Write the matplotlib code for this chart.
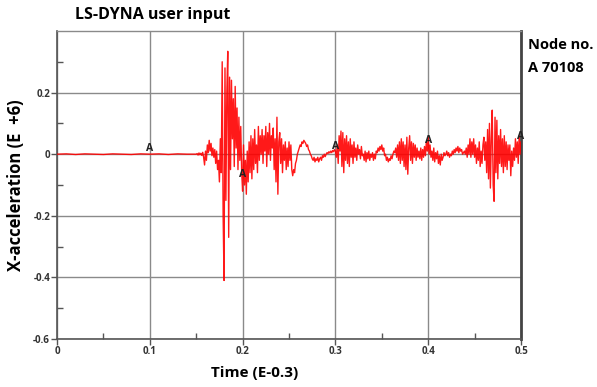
import numpy as np
import matplotlib
matplotlib.use("Agg")
import matplotlib.pyplot as plt

# ---- data ----
quiet_time = [0.00, 0.01, 0.02, 0.03, 0.04, 0.05, 0.06, 0.07, 0.08, 0.09,
              0.10, 0.11, 0.12, 0.13, 0.14]
quiet_vals = [0.000, 0.001, -0.001, 0.001, 0.000, -0.001, 0.001, 0.000, -0.001, 0.001,
              0.000, 0.001, -0.001, 0.001, 0.000]

active_start = 0.150
active_step = 0.001
active_vals = [
    0.000, 0.002, -0.003, 0.004, -0.002, 0.003, -0.004, 0.006, -0.010, -0.035,
    0.010, -0.020, 0.030, 0.005, 0.045, 0.010, 0.035, -0.005, 0.020, -0.010,
    0.015, -0.030, 0.010, -0.050, -0.020, -0.090, 0.050, -0.060, 0.300, -0.200,
    -0.410, 0.280, -0.150, 0.200, 0.334, -0.270, 0.250, -0.050, 0.240, 0.050,
    0.180, -0.040, 0.220, 0.020, 0.150, -0.050, 0.120, -0.020, 0.090, -0.060,
    -0.120, 0.030, -0.100, -0.020, -0.130, 0.010, -0.090, 0.040, -0.060, 0.060,
    -0.080, 0.050, -0.050, 0.080, -0.030, 0.030, -0.060, 0.090, -0.020, 0.060,
    0.000, 0.080, -0.030, 0.060, 0.010, 0.090, -0.040, 0.070, 0.000, 0.100,
    -0.020, 0.060, 0.020, 0.085, -0.050, 0.050, -0.090, 0.120, -0.130, 0.040,
    0.070, -0.030, 0.050, -0.060, 0.030, -0.020, 0.040, -0.050, 0.020, -0.040,
    0.040, -0.020, 0.030, -0.050, -0.070, -0.050, -0.060, -0.030, -0.020, 0.000,
    0.010, 0.020, 0.030, 0.025, 0.040, 0.035, 0.045, 0.040, 0.035, 0.025,
    0.030, 0.015, 0.010, 0.000, -0.005, -0.015, -0.020, -0.010, -0.025, -0.015,
    -0.020, -0.010, -0.025, -0.015, -0.010, -0.020, -0.005, -0.010, 0.000, -0.008,
    0.000, 0.005, 0.002, 0.008, 0.004, 0.010, 0.005, 0.012, 0.008, 0.015,
    0.010, -0.010, 0.030, -0.030, 0.060, 0.010, 0.075, -0.040, 0.070, -0.060,
    0.050, -0.020, 0.060, -0.030, 0.040, -0.040, 0.050, -0.010, 0.030, -0.030,
    0.040, -0.010, 0.020, -0.020, 0.030, 0.000, 0.015, -0.015, 0.025, -0.005,
    0.000, -0.020, 0.010, -0.025, 0.005, -0.015, 0.010, -0.020, 0.000, -0.010,
    0.005, -0.020, 0.000, -0.015, 0.010, 0.005, 0.020, 0.010, 0.025, 0.015,
    0.030, 0.010, 0.020, -0.005, 0.000, -0.020, -0.010, -0.025, -0.015, -0.020,
    -0.005, -0.015, 0.000, 0.010, 0.005, 0.020, -0.010, 0.030, -0.020, 0.040,
    -0.030, 0.050, -0.020, 0.040, -0.040, 0.030, -0.050, 0.055, -0.065, 0.020,
    0.060, -0.020, 0.040, -0.030, 0.035, -0.010, 0.030, -0.020, 0.020, -0.010,
    0.010, -0.015, 0.020, -0.020, 0.015, -0.010, 0.025, -0.005, 0.040, 0.010,
    0.055, 0.000, 0.030, -0.010, 0.010, -0.020, 0.020, -0.025, 0.005, -0.015,
    0.010, -0.030, -0.005, -0.035, 0.000, -0.020, -0.010, 0.005, -0.005, 0.000,
    0.010, -0.005, 0.005, -0.010, 0.000, -0.005, 0.010, 0.000, 0.015, 0.005,
    0.020, 0.010, 0.025, 0.005, 0.020, 0.010, 0.015, 0.000, 0.005, 0.010,
    0.000, 0.020, -0.010, 0.030, 0.000, 0.050, -0.010, 0.040, 0.000, 0.050,
    -0.010, 0.030, -0.030, 0.020, -0.020, 0.040, -0.040, 0.010, -0.030, 0.030,
    0.055, -0.020, 0.040, -0.060, 0.080, -0.080, 0.100, -0.110, 0.050, 0.143,
    -0.100, -0.153, 0.120, -0.060, 0.110, -0.080, 0.060, -0.030, 0.080, -0.040,
    0.050, -0.060, 0.060, -0.040, 0.040, -0.050, 0.030, -0.020, 0.030, -0.070,
    0.010, -0.040, 0.020, -0.020, 0.050, -0.010, 0.040, -0.030, 0.060, 0.000,
    0.040,
]

label_times = [0.1, 0.2, 0.3, 0.4, 0.5]
label_vals = [0.000, -0.085, 0.008, 0.028, 0.040]

x_ticks = [0, 0.1, 0.2, 0.3, 0.4, 0.5]
x_tick_labels = ["0", "0.1", "0.2", "0.3", "0.4", "0.5"]
y_ticks = [-0.6, -0.4, -0.2, 0, 0.2]
y_tick_labels = ["-0.6", "-0.4", "-0.2", "0", "0.2"]

# ---- build series ----
active_time = active_start + active_step * np.arange(len(active_vals))
t = np.concatenate([np.array(quiet_time), active_time])
a = np.concatenate([np.array(quiet_vals), np.array(active_vals)])

plt.rcParams['font.family'] = ['Open Sans', 'DejaVu Sans']

fig = plt.figure(figsize=(5.97, 3.87), dpi=100)
ax = fig.add_axes([0.0955, 0.124, 0.7772, 0.796])

ax.plot(t, a, color='#ff0000', linewidth=1.0, alpha=0.9, zorder=3)

for lt, lv in zip(label_times, label_vals):
    ax.text(lt, lv, "A", fontsize=7.5, fontweight='bold', color='#222222',
            ha='center', va='bottom', zorder=4)

ax.set_xlim(0, 0.5)
ax.set_ylim(-0.6, 0.4)

ax.set_xticks(x_ticks)
ax.set_xticklabels(x_tick_labels)
ax.set_yticks(y_ticks)
ax.set_yticklabels(y_tick_labels)
ax.set_xticks(np.arange(0.05, 0.5, 0.1), minor=True)
ax.set_yticks([-0.5, -0.3, -0.1, 0.1, 0.3], minor=True)

ax.grid(True, which='major', color='#8a8a8a', linewidth=1.0, zorder=1)
ax.tick_params(which='major', direction='out', length=4, width=1, color='#555555',
               labelsize=7, labelcolor='#333333', pad=1)
ax.tick_params(which='minor', direction='in', length=4, width=1, color='#555555')
for lbl in ax.get_xticklabels() + ax.get_yticklabels():
    lbl.set_fontweight('bold')

for side in ['left', 'bottom']:
    ax.spines[side].set_color('#555555')
    ax.spines[side].set_linewidth(1.2)
ax.spines['top'].set_color('#8a8a8a')
ax.spines['top'].set_linewidth(1.0)
ax.spines['right'].set_color('#444444')
ax.spines['right'].set_linewidth(2.0)

ax.set_xlabel("Time (E-0.3)", fontsize=11, fontweight='bold')
ax.xaxis.set_label_coords(0.425, -0.088)
ax.set_ylabel("X-acceleration (E  +6)", fontsize=12, fontweight='bold')
ax.yaxis.set_label_coords(-0.068, 0.5)

fig.text(0.126, 0.96, "LS-DYNA user input", fontsize=11.5, fontweight='bold',
         ha='left', va='center')
fig.text(0.884, 0.885, "Node no.", fontsize=10.5, fontweight='bold', ha='left', va='center')
fig.text(0.884, 0.825, "A 70108", fontsize=10.5, fontweight='bold', ha='left', va='center')

fig.savefig("out.png", dpi=100)
